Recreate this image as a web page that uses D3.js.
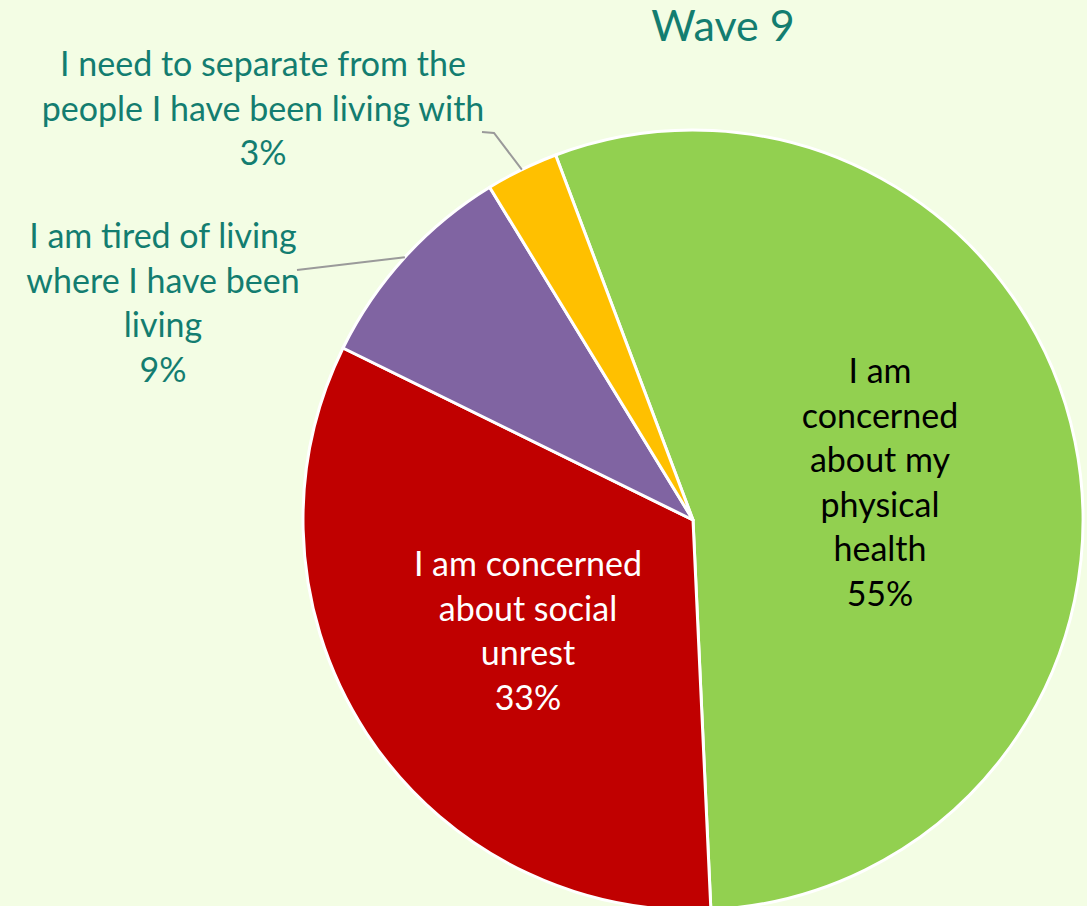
<!DOCTYPE html>
<html><head><meta charset="utf-8">
<script src="https://cdn.jsdelivr.net/npm/d3@7"></script>
<style>html,body{margin:0;padding:0;background:#f3fde4;}svg{display:block;}</style>
</head><body>
<svg id="chart" width="1087" height="906"></svg>
<script>
const title = "Wave 9";
const categories = [
  "I am concerned about my physical health",
  "I am concerned about social unrest",
  "I am tired of living where I have been living",
  "I need to separate from the people I have been living with"
];
const values = [55, 33, 9, 3];
const colors = ["#92d050", "#c00000", "#8064a2", "#ffc000"];
const labelLines = [
  ["I am", "concerned", "about my", "physical", "health", "55%"],
  ["I am concerned", "about social", "unrest", "33%"],
  ["I am tired of living", "where I have been", "living", "9%"],
  ["I need to separate from the", "people I have been living with", "3%"]
];

const svg = d3.select("#chart");
const W = 1087, H = 906;
svg.append("rect").attr("width", W).attr("height", H).attr("fill", "#f3fde4");

const cx = 693, cy = 520, R = 390;
const start = -0.36;
const pie = d3.pie().sort(null).value(d => d).startAngle(start).endAngle(start + 2 * Math.PI);
const arcs = pie(values);
const arc = d3.arc().innerRadius(0).outerRadius(R);

const g = svg.append("g").attr("transform", `translate(${cx},${cy})`);
g.selectAll("path.slice").data(arcs).enter().append("path")
  .attr("class", "slice")
  .attr("d", arc)
  .attr("fill", (d, i) => colors[i])
  .attr("stroke", "#ffffff")
  .attr("stroke-width", 3)
  .attr("stroke-linejoin", "round");

svg.append("text").text(title)
  .attr("x", 723).attr("y", 41)
  .attr("text-anchor", "middle")
  .attr("font-family", "Lato, 'Open Sans', sans-serif")
  .attr("font-size", 43)
  .attr("fill", "#137d70");

const font = "Lato, 'Open Sans', sans-serif";
const fs = 34, lh = 44.5;
function drawLabel(lines, x, yFirst, fill) {
  const t = svg.append("text")
    .attr("text-anchor", "middle")
    .attr("font-family", font)
    .attr("font-size", fs)
    .attr("fill", fill);
  lines.forEach((s, k) => {
    t.append("tspan").attr("x", x).attr("y", yFirst + k * lh).text(s);
  });
}
const labelPos = [
  {x: 880, y: 383, fill: "#000000"},
  {x: 528, y: 576, fill: "#ffffff"},
  {x: 163, y: 248, fill: "#137d70"},
  {x: 263, y: 76, fill: "#137d70"}
];
labelLines.forEach((lines, i) => drawLabel(lines, labelPos[i].x, labelPos[i].y, labelPos[i].fill));

const pointOn = (a, r) => [cx + r * Math.sin(a), cy - r * Math.cos(a)];
function leader(d, pts) {
  const mid = (d.startAngle + d.endAngle) / 2;
  const p = pointOn(mid, R);
  svg.append("polyline")
    .attr("points", [...pts, p].map(q => q.join(",")).join(" "))
    .attr("fill", "none")
    .attr("stroke", "#9a9a9a")
    .attr("stroke-width", 2);
}
leader(arcs[2], [[297, 270]]);
leader(arcs[3], [[482, 132], [494, 133]]);
</script>
</body></html>
